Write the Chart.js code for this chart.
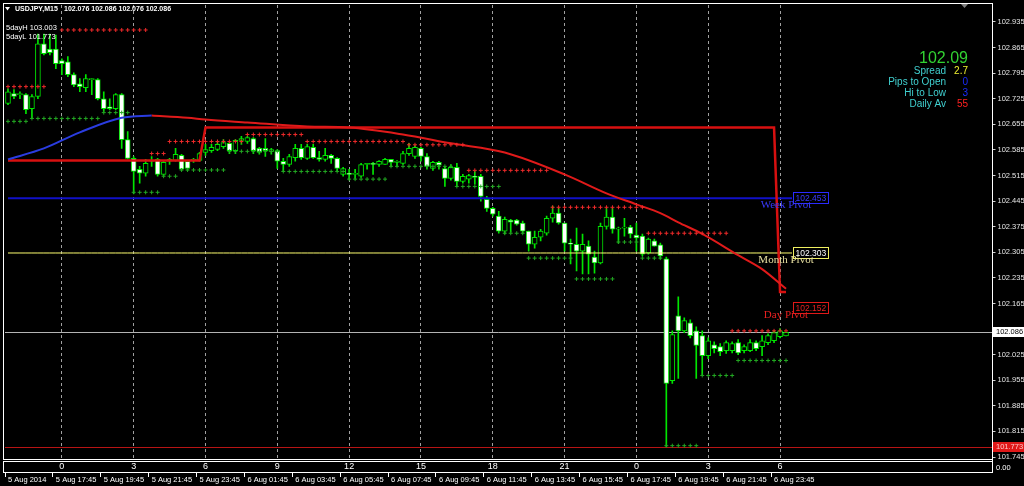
<!DOCTYPE html>
<html>
<head>
<meta charset="utf-8">
<script src="https://cdn.jsdelivr.net/npm/chart.js@4.4.1/dist/chart.umd.min.js"></script>
<style>
  html, body { margin: 0; background: #000; overflow: hidden; }
</style>
</head>
<body>
<canvas id="chart" width="1024" height="486"></canvas>
<script>
// ---- USDJPY M15, 5-6 Aug 2014 ----
const slotCount = 165; // bars that fit the window (last 34 empty, chart shift)

const hourBars = [9, 21, 33, 45, 57, 69, 81, 93, 105, 117, 129];
const hourText = ['0', '3', '6', '9', '12', '15', '18', '21', '0', '3', '6'];

const dateBars = [0, 8, 16, 24, 32, 40, 48, 56, 64, 72, 80, 88, 96, 104, 112, 120, 128];
const dateText = ['5 Aug 2014', '5 Aug 17:45', '5 Aug 19:45', '5 Aug 21:45', '5 Aug 23:45',
  '6 Aug 01:45', '6 Aug 03:45', '6 Aug 05:45', '6 Aug 07:45', '6 Aug 09:45', '6 Aug 11:45',
  '6 Aug 13:45', '6 Aug 15:45', '6 Aug 17:45', '6 Aug 19:45', '6 Aug 21:45', '6 Aug 23:45'];

const priceTicks = [102.935, 102.865, 102.795, 102.725, 102.655, 102.585, 102.515, 102.445,
  102.375, 102.305, 102.235, 102.165, 102.025, 101.955, 101.885, 101.815, 101.745];

const opens = [
  102.712, 102.739, 102.736, 102.736, 102.698, 102.731, 102.875, 102.861, 102.861, 102.829,
  102.826, 102.791, 102.766, 102.755, 102.777, 102.777, 102.725, 102.703, 102.698, 102.736,
  102.613, 102.562, 102.532, 102.521, 102.556, 102.559, 102.518, 102.554, 102.556, 102.570,
  102.554, 102.556, 102.556, 102.578, 102.583, 102.586, 102.594, 102.603, 102.583, 102.611,
  102.608, 102.616, 102.589, 102.589, 102.581, 102.583, 102.554, 102.545, 102.564, 102.589,
  102.562, 102.592, 102.564, 102.559, 102.570, 102.562, 102.518, 102.521, 102.518, 102.513,
  102.545, 102.548, 102.545, 102.545, 102.559, 102.551, 102.548, 102.575, 102.567, 102.589,
  102.567, 102.534, 102.551, 102.534, 102.507, 102.537, 102.499, 102.505, 102.513, 102.513,
  102.450, 102.425, 102.404, 102.363, 102.393, 102.393, 102.385, 102.363, 102.327, 102.346,
  102.357, 102.398, 102.412, 102.385, 102.330, 102.327, 102.308, 102.322, 102.292, 102.276,
  102.376, 102.401, 102.368, 102.371, 102.374, 102.352, 102.349, 102.303, 102.336, 102.325,
  102.287, 101.954, 102.131, 102.090, 102.112, 102.090, 102.077, 102.022, 102.052, 102.047,
  102.036, 102.036, 102.058, 102.036, 102.036, 102.058, 102.047, 102.058, 102.063, 102.074,
  102.076
];
const highs = [
  102.752, 102.750, 102.744, 102.739, 102.736, 102.902, 102.902, 102.902, 102.899, 102.834,
  102.840, 102.796, 102.780, 102.791, 102.780, 102.780, 102.744, 102.725, 102.739, 102.739,
  102.635, 102.567, 102.540, 102.559, 102.567, 102.562, 102.554, 102.562, 102.589, 102.573,
  102.556, 102.562, 102.578, 102.600, 102.600, 102.605, 102.613, 102.608, 102.613, 102.622,
  102.622, 102.619, 102.592, 102.616, 102.589, 102.586, 102.562, 102.573, 102.600, 102.600,
  102.600, 102.600, 102.581, 102.589, 102.573, 102.564, 102.537, 102.532, 102.532, 102.548,
  102.548, 102.551, 102.556, 102.562, 102.559, 102.556, 102.581, 102.603, 102.597, 102.592,
  102.575, 102.554, 102.554, 102.540, 102.545, 102.548, 102.518, 102.518, 102.526, 102.518,
  102.458, 102.428, 102.417, 102.401, 102.395, 102.395, 102.390, 102.363, 102.363, 102.368,
  102.404, 102.431, 102.425, 102.385, 102.341, 102.371, 102.355, 102.336, 102.308, 102.385,
  102.425, 102.425, 102.374, 102.398, 102.379, 102.385, 102.355, 102.344, 102.341, 102.330,
  102.292, 102.090, 102.183, 102.126, 102.120, 102.101, 102.090, 102.071, 102.060, 102.055,
  102.063, 102.060, 102.066, 102.052, 102.066, 102.063, 102.077, 102.082, 102.090, 102.096,
  102.086
];
const lows = [
  102.709, 102.725, 102.725, 102.684, 102.671, 102.725, 102.845, 102.845, 102.807, 102.791,
  102.785, 102.758, 102.744, 102.744, 102.736, 102.722, 102.690, 102.695, 102.695, 102.589,
  102.560, 102.466, 102.494, 102.513, 102.540, 102.513, 102.513, 102.545, 102.554, 102.529,
  102.529, 102.551, 102.554, 102.570, 102.578, 102.583, 102.589, 102.575, 102.575, 102.600,
  102.603, 102.575, 102.573, 102.567, 102.573, 102.534, 102.526, 102.540, 102.554, 102.559,
  102.559, 102.562, 102.554, 102.554, 102.548, 102.526, 102.513, 102.505, 102.507, 102.510,
  102.532, 102.518, 102.540, 102.545, 102.540, 102.540, 102.545, 102.570, 102.562, 102.554,
  102.532, 102.529, 102.532, 102.485, 102.502, 102.485, 102.494, 102.494, 102.491, 102.445,
  102.417, 102.404, 102.357, 102.355, 102.360, 102.379, 102.357, 102.308, 102.316, 102.336,
  102.352, 102.387, 102.382, 102.308, 102.273, 102.254, 102.246, 102.246, 102.248, 102.273,
  102.368, 102.357, 102.330, 102.349, 102.344, 102.308, 102.295, 102.300, 102.322, 102.287,
  101.773, 101.946, 101.960, 102.085, 102.071, 101.960, 101.968, 102.014, 102.030, 102.022,
  102.028, 102.030, 102.025, 102.030, 102.033, 102.036, 102.022, 102.052, 102.058, 102.071,
  102.076
];
const closes = [
  102.744, 102.731, 102.739, 102.695, 102.731, 102.875, 102.848, 102.851, 102.821, 102.821,
  102.791, 102.763, 102.758, 102.780, 102.780, 102.725, 102.698, 102.698, 102.736, 102.613,
  102.562, 102.526, 102.521, 102.548, 102.554, 102.518, 102.551, 102.559, 102.573, 102.532,
  102.534, 102.559, 102.575, 102.586, 102.592, 102.600, 102.605, 102.583, 102.611, 102.616,
  102.619, 102.583, 102.578, 102.583, 102.586, 102.554, 102.545, 102.567, 102.589, 102.564,
  102.594, 102.564, 102.559, 102.570, 102.562, 102.534, 102.534, 102.518, 102.521, 102.545,
  102.548, 102.545, 102.554, 102.559, 102.551, 102.554, 102.575, 102.589, 102.592, 102.567,
  102.540, 102.551, 102.543, 102.507, 102.537, 102.499, 102.513, 102.515, 102.510, 102.458,
  102.425, 102.409, 102.363, 102.395, 102.387, 102.382, 102.363, 102.327, 102.346, 102.363,
  102.398, 102.412, 102.385, 102.330, 102.327, 102.308, 102.327, 102.300, 102.276, 102.376,
  102.401, 102.368, 102.371, 102.374, 102.355, 102.344, 102.300, 102.341, 102.322, 102.295,
  101.946, 102.080, 102.090, 102.118, 102.077, 102.050, 102.022, 102.063, 102.041, 102.033,
  102.058, 102.055, 102.030, 102.047, 102.058, 102.041, 102.063, 102.077, 102.085, 102.090,
  102.086
];

// support / resistance dots: [first bar, last bar, price]
const resistStart = [0, 9, 24, 27, 40, 50, 67, 77, 91, 107, 121];
const resistEnd   = [6, 23, 26, 39, 49, 66, 76, 90, 106, 120, 130];
const resistPrice = [102.758, 102.913, 102.575, 102.608, 102.627, 102.608, 102.599, 102.529, 102.428, 102.357, 102.090];

const supportStart = [0, 4, 16, 21, 26, 29, 37, 46, 57, 64, 75, 83, 87, 95, 102, 106, 110, 116, 122];
const supportEnd   = [3, 15, 20, 25, 28, 36, 45, 56, 63, 74, 82, 86, 94, 101, 105, 109, 115, 121, 130];
const supportPrice = [102.663, 102.671, 102.687, 102.469, 102.513, 102.530, 102.581, 102.526, 102.505, 102.540,
  102.485, 102.357, 102.289, 102.232, 102.333, 102.289, 101.776, 101.968, 102.009];

// slow average, blue while rising, red while falling
const avgUpBars = [0, 6, 12, 19, 24];
const avgUp     = [102.559, 102.589, 102.633, 102.673, 102.679];
const avgDownBars = [24, 30, 33, 40, 50, 57, 66, 74, 83, 93, 100, 105, 109, 112, 116, 122, 126, 130];
const avgDown     = [102.679, 102.673, 102.668, 102.660, 102.649, 102.646, 102.627, 102.603, 102.578,
  102.518, 102.466, 102.436, 102.412, 102.387, 102.355, 102.297, 102.259, 102.205];

// red level line (steps)
const levelStart = [0, 33, 129];
const levelEnd   = [32, 128, 130];
const levelPrice = [102.556, 102.646, 102.196];

const weekPivot = 102.453;
const monthPivot = 102.303;
const dayPivot = 102.152;
const bidPrice = 102.086;
const fiveDayHigh = 103.003;
const fiveDayLow = 101.773;

// ---- build series ----
const wickColor = '#00e600';
const blank = () => new Array(slotCount).fill(null);

const wicks = blank(), bodies = blank(), bodyFill = [];
opens.forEach((o, i) => {
  wicks[i] = [lows[i], highs[i]];
  bodies[i] = [o, closes[i]];
  bodyFill[i] = closes[i] < o ? '#ffffff' : '#000000';
});

const fromSegments = (starts, ends, prices) => {
  const out = blank();
  starts.forEach((s, k) => { for (let i = s; i <= ends[k]; i++) out[i] = prices[k]; });
  return out;
};
const fromPoints = (bars, prices) => {
  const out = blank();
  bars.forEach((b, k) => { out[b] = prices[k]; });
  return out;
};
const flat = (price, lastBar) => blank().map((v, i) => (i <= lastBar ? price : null));

const hourLabel = {}; hourBars.forEach((b, k) => { hourLabel[b] = hourText[k]; });
const dateLabel = {}; dateBars.forEach((b, k) => { dateLabel[b] = dateText[k]; });

const sans = 'Liberation Sans';
const serif = 'Liberation Serif';
Chart.defaults.font.family = sans;

// extra drawing: horizontal price lines, frames, tags and chart texts
const overlay = {
  id: 'overlay',
  beforeDatasetsDraw(chart) {
    const { ctx, chartArea: a, scales: { y } } = chart;
    ctx.save();
    ctx.lineWidth = 1;
    [[bidPrice, '#b4b4b4'], [fiveDayLow, '#b81414']].forEach(([v, c]) => {
      const py = Math.round(y.getPixelForValue(v)) + 0.5;
      ctx.strokeStyle = c;
      ctx.beginPath(); ctx.moveTo(a.left, py); ctx.lineTo(a.right, py); ctx.stroke();
    });
    ctx.restore();
  },
  afterDraw(chart) {
    const { ctx, chartArea: a, scales: { x, y } } = chart;
    ctx.save();
    // frames of main window and sub window
    ctx.strokeStyle = '#ffffff';
    ctx.lineWidth = 1;
    ctx.strokeRect(3.5, 3.5, a.right - 3.5, a.bottom - 4);
    ctx.strokeRect(3.5, 461.5, a.right - 3.5, 11);
    ctx.font = '7.5px ' + sans;
    ctx.fillStyle = '#ffffff';
    ctx.textBaseline = 'middle';
    ctx.fillText('0.00', 996, 468);

    // price tags on the axis
    const axisTag = (v, bg, fg) => {
      const py = Math.round(y.getPixelForValue(v));
      ctx.fillStyle = bg;
      ctx.fillRect(993, py - 5, 31, 10);
      ctx.fillStyle = fg;
      ctx.font = '7.5px ' + sans;
      ctx.textAlign = 'left';
      ctx.fillText(v.toFixed(3), 996, py);
    };
    axisTag(bidPrice, '#ffffff', '#000000');
    axisTag(fiveDayLow, '#e01818', '#ffc8c8');

    // pivot tags
    const tagX = Math.round(x.getPixelForValue(131)) + 1.5;
    const textX = x.getPixelForValue(130);
    [[weekPivot, 'Week Pivot', '#2a2aff', '#3a3aff'],
     [monthPivot, 'Month Pivot', '#f0f060', '#e8e0a0'],
     [dayPivot, 'Day Pivot', '#e01818', '#e82020']].forEach(([v, name, edge, txt]) => {
      const py = Math.round(y.getPixelForValue(v));
      ctx.fillStyle = '#000000';
      ctx.fillRect(tagX, py - 5.5, 35, 11);
      ctx.strokeStyle = edge;
      ctx.strokeRect(tagX, py - 5.5, 35, 11);
      ctx.fillStyle = edge === '#f0f060' ? '#ffffff' : txt;
      ctx.font = '8.5px ' + sans;
      ctx.textAlign = 'left';
      ctx.fillText(v.toFixed(3), tagX + 2, py + 0.5);
      ctx.fillStyle = txt;
      ctx.font = '11px ' + serif;
      ctx.textAlign = 'center';
      ctx.fillText(name, textX, py + 7);
    });

    // header
    ctx.textAlign = 'left';
    ctx.fillStyle = '#ffffff';
    ctx.beginPath(); ctx.moveTo(5, 7); ctx.lineTo(10, 7); ctx.lineTo(7.5, 10.5); ctx.closePath(); ctx.fill();
    ctx.font = 'bold 7px ' + sans;
    ctx.fillText('USDJPY,M15', 15, 9);
    ctx.fillText([102.076, 102.086, 102.076, 102.086].map(v => v.toFixed(3)).join(' '), 64, 9);
    ctx.font = '7.5px ' + sans;
    ctx.fillText('5dayH ' + fiveDayHigh.toFixed(3), 6, 28);
    ctx.fillText('5dayL ' + fiveDayLow.toFixed(3), 6, 37);
    ctx.fillStyle = '#808080';
    ctx.beginPath(); ctx.moveTo(961, 4); ctx.lineTo(968, 4); ctx.lineTo(964.5, 8); ctx.closePath(); ctx.fill();

    // info panel
    ctx.textAlign = 'right';
    ctx.fillStyle = '#32d232';
    ctx.font = '16px ' + sans;
    ctx.fillText('102.09', 968, 59);
    ctx.font = '10px ' + sans;
    const rows = [['Spread', '2.7', '#f0f030'], ['Pips to Open', '0', '#1a2cff'],
                  ['Hi to Low', '3', '#1a2cff'], ['Daily Av', '55', '#ff2020']];
    rows.forEach(([label, val, col], k) => {
      const ty = 71 + k * 11;
      ctx.textAlign = 'right';
      ctx.fillStyle = '#40d0d0';
      ctx.fillText(label, 946, ty);
      ctx.fillStyle = col;
      ctx.fillText(val, 968, ty);
    });
    ctx.restore();
  }
};

new Chart(document.getElementById('chart'), {
  type: 'bar',
  data: {
    labels: Array.from({ length: slotCount }, (_, i) => i),
    datasets: [
      { type: 'line', data: fromSegments(resistStart, resistEnd, resistPrice), showLine: false,
        pointStyle: 'cross', pointRadius: 2, pointBorderWidth: 1, borderColor: '#ee2a2a', order: 0 },
      { type: 'line', data: fromSegments(supportStart, supportEnd, supportPrice), showLine: false,
        pointStyle: 'cross', pointRadius: 2, pointBorderWidth: 1, borderColor: '#22a822', order: 0 },
      { type: 'line', data: fromPoints(avgUpBars, avgUp), spanGaps: true, cubicInterpolationMode: 'monotone',
        borderColor: '#2a3ce0', borderWidth: 2, pointRadius: 0, order: 2 },
      { type: 'line', data: fromPoints(avgDownBars, avgDown), spanGaps: true, cubicInterpolationMode: 'monotone',
        borderColor: '#e01a1a', borderWidth: 2, pointRadius: 0, order: 2 },
      { type: 'line', data: fromSegments(levelStart, levelEnd, levelPrice), borderColor: '#d81010',
        borderWidth: 2.5, pointRadius: 0, order: 3 },
      { type: 'line', data: flat(weekPivot, 131), borderColor: '#1010c8', borderWidth: 2, pointRadius: 0, order: 4 },
      { type: 'line', data: flat(monthPivot, 131), borderColor: '#ffff70', borderWidth: 1, pointRadius: 0, order: 4 },
      { data: bodies, backgroundColor: bodyFill, borderColor: wickColor, borderWidth: 1,
        borderSkipped: false, barThickness: 5, grouped: false, order: 8 },
      { data: wicks, backgroundColor: wickColor, borderWidth: 0, barThickness: 1, grouped: false, order: 9 }
    ]
  },
  options: {
    responsive: false,
    animation: false,
    devicePixelRatio: 1,
    events: [],
    layout: { padding: { left: 2.5, top: 3, right: 0, bottom: 0 } },
    plugins: { legend: { display: false }, tooltip: { enabled: false } },
    scales: {
      x: {
        position: 'bottom',
        offset: true,
        grid: {
          offset: false, drawTicks: false, lineWidth: 1,
          color: c => (hourLabel[c.index] !== undefined ? '#a0a0a0' : 'rgba(0,0,0,0)')
        },
        border: { display: false, dash: [3, 3] },
        ticks: {
          autoSkip: false, maxRotation: 0, minRotation: 0, padding: 1.6,
          color: '#ffffff', font: { size: 9 },
          callback: (v, i) => hourLabel[i] ?? ''
        },
        afterFit: s => { s.height = 13; s.paddingLeft = 0; s.paddingRight = 0; }
      },
      x2: {
        position: 'bottom',
        offset: true,
        grid: {
          offset: true, drawOnChartArea: false, drawTicks: true, tickLength: 4,
          color: 'rgba(0,0,0,0)',
          tickColor: c => (dateLabel[c.index] !== undefined ? '#ffffff' : 'rgba(0,0,0,0)')
        },
        border: { display: false },
        ticks: {
          autoSkip: false, maxRotation: 0, minRotation: 0, padding: -2, align: 'start',
          color: '#ffffff', font: { size: 7.5 },
          callback: (v, i) => dateLabel[i] ?? ''
        },
        afterFit: s => { s.height = 13; s.paddingLeft = 0; s.paddingRight = 0; }
      },
      y: {
        position: 'right',
        min: 101.7368,
        max: 102.9813,
        afterBuildTicks: s => { s.ticks = priceTicks.map(v => ({ value: v })); },
        grid: { drawOnChartArea: false, drawTicks: true, tickLength: 3, color: '#d0d0d0' },
        border: { display: true, color: '#ffffff' },
        ticks: {
          padding: 2, color: '#e6e6e6', font: { size: 7.5 },
          callback: v => v.toFixed(3)
        },
        afterFit: s => { s.width = 31.5; s.paddingTop = 0; s.paddingBottom = 0; }
      }
    }
  },
  plugins: [overlay]
});
</script>
</body>
</html>
